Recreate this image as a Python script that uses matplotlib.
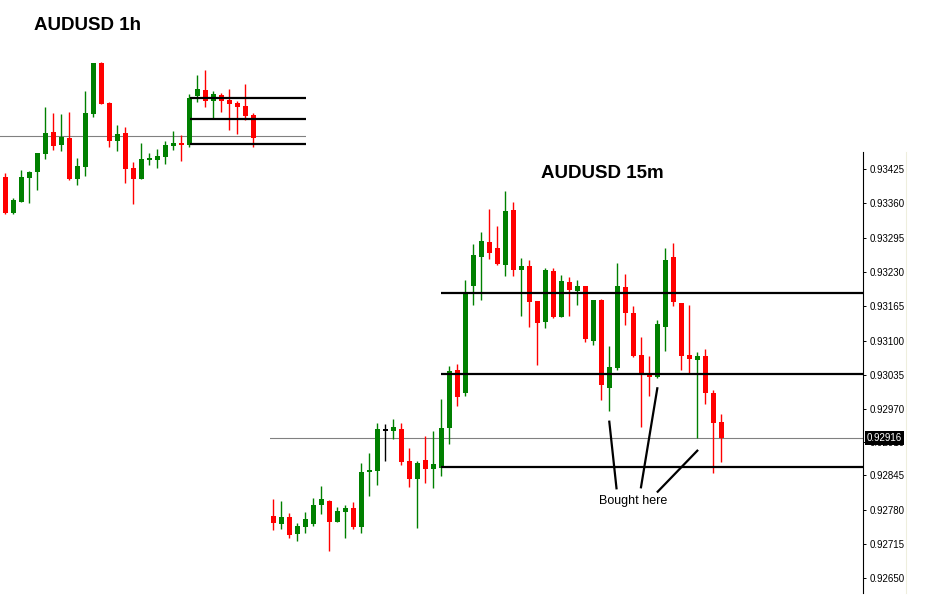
import matplotlib
matplotlib.use("Agg")
import matplotlib.pyplot as plt
from matplotlib.lines import Line2D
from matplotlib import transforms

plt.rcParams['font.family'] = ['Liberation Sans', 'DejaVu Sans']

W, H = 931, 616

# ---------------- data ----------------
# AUDUSD 1h candles
h1_open = [0.92623, 0.92366, 0.92444, 0.92616, 0.92659, 0.92787, 0.92945, 0.92852,
           0.92902, 0.92609, 0.92695, 0.93073, 0.93438, 0.93152, 0.92880, 0.92938,
           0.92687, 0.92609, 0.92745, 0.92745, 0.92766, 0.92845, 0.92866, 0.92852,
           0.93202, 0.93245, 0.93166, 0.93209, 0.93174, 0.93152, 0.93131, 0.93066]
h1_high = [0.92652, 0.92473, 0.92673, 0.92666, 0.92795, 0.93124, 0.93081, 0.93073,
           0.93088, 0.92759, 0.93238, 0.93438, 0.93445, 0.93159, 0.92995, 0.92981,
           0.92730, 0.92866, 0.92795, 0.92823, 0.92880, 0.92952, 0.92923, 0.93216,
           0.93352, 0.93388, 0.93238, 0.93224, 0.93252, 0.93166, 0.93288, 0.93081]
h1_low = [0.92358, 0.92358, 0.92444, 0.92437, 0.92530, 0.92752, 0.92816, 0.92809,
          0.92605, 0.92566, 0.92630, 0.93052, 0.93143, 0.92838, 0.92809, 0.92580,
          0.92430, 0.92607, 0.92709, 0.92687, 0.92716, 0.92816, 0.92737, 0.92838,
          0.93159, 0.93124, 0.93045, 0.93088, 0.92959, 0.92930, 0.93031, 0.92838]
h1_close = [0.92366, 0.92459, 0.92623, 0.92659, 0.92795, 0.92938, 0.92845, 0.92909,
            0.92609, 0.92702, 0.93081, 0.93438, 0.93147, 0.92880, 0.92930, 0.92680,
            0.92609, 0.92752, 0.92759, 0.92773, 0.92852, 0.92866, 0.92852, 0.93188,
            0.93252, 0.93166, 0.93216, 0.93166, 0.93145, 0.93124, 0.93059, 0.92902]

# AUDUSD 15m candles
m15_open = [0.92768, 0.92753, 0.92766, 0.92734, 0.92748, 0.92753, 0.92788, 0.92796,
            0.92757, 0.92776, 0.92783, 0.92748, 0.92851, 0.92853, 0.92931, 0.92929,
            0.92933, 0.92872, 0.92838, 0.92874, 0.92857, 0.92859, 0.92935, 0.93044,
            0.93001, 0.93203, 0.93258, 0.93287, 0.93275, 0.93243, 0.93347, 0.93234,
            0.93241, 0.93175, 0.93135, 0.93232, 0.93145, 0.93211, 0.93194, 0.93203,
            0.93099, 0.93177, 0.93010, 0.93048, 0.93202, 0.93152, 0.93073, 0.93037,
            0.93031, 0.93126, 0.93258, 0.93171, 0.93073, 0.93063, 0.93071, 0.93001,
            0.92946]
m15_high = [0.92800, 0.92796, 0.92774, 0.92755, 0.92776, 0.92802, 0.92825, 0.92798,
            0.92785, 0.92789, 0.92795, 0.92868, 0.92887, 0.92944, 0.92942, 0.92952,
            0.92944, 0.92897, 0.92872, 0.92920, 0.92929, 0.92990, 0.93052, 0.93056,
            0.93215, 0.93283, 0.93306, 0.93349, 0.93317, 0.93383, 0.93362, 0.93256,
            0.93253, 0.93175, 0.93238, 0.93238, 0.93224, 0.93220, 0.93215, 0.93203,
            0.93177, 0.93179, 0.93090, 0.93247, 0.93226, 0.93166, 0.93107, 0.93071,
            0.93139, 0.93275, 0.93285, 0.93171, 0.93168, 0.93078, 0.93084, 0.93007,
            0.92961]
m15_low = [0.92742, 0.92744, 0.92727, 0.92721, 0.92736, 0.92750, 0.92772, 0.92702,
           0.92756, 0.92727, 0.92744, 0.92736, 0.92806, 0.92827, 0.92872, 0.92914,
           0.92865, 0.92823, 0.92746, 0.92831, 0.92821, 0.92844, 0.92905, 0.92977,
           0.92996, 0.93168, 0.93177, 0.93255, 0.93243, 0.93222, 0.93222, 0.93147,
           0.93126, 0.93054, 0.93124, 0.93143, 0.93145, 0.93147, 0.93168, 0.93097,
           0.93092, 0.92988, 0.92967, 0.93044, 0.93130, 0.93069, 0.92937, 0.92995,
           0.93029, 0.93080, 0.93166, 0.93044, 0.93037, 0.92916, 0.92980, 0.92849,
           0.92870]
m15_close = [0.92755, 0.92766, 0.92733, 0.92749, 0.92762, 0.92789, 0.92800, 0.92757,
             0.92777, 0.92783, 0.92748, 0.92851, 0.92855, 0.92933, 0.92931, 0.92937,
             0.92870, 0.92838, 0.92868, 0.92857, 0.92866, 0.92935, 0.93043, 0.92994,
             0.93190, 0.93262, 0.93289, 0.93266, 0.93245, 0.93345, 0.93234, 0.93241,
             0.93173, 0.93133, 0.93234, 0.93145, 0.93213, 0.93196, 0.93203, 0.93103,
             0.93177, 0.93016, 0.93050, 0.93203, 0.93152, 0.93071, 0.93035, 0.93031,
             0.93132, 0.93253, 0.93173, 0.93071, 0.93065, 0.93071, 0.93001, 0.92944,
             0.92916]

levels = [0.93190, 0.93037, 0.92861]
last_price = 0.92916

m15_ticks = [0.93425, 0.93360, 0.93295, 0.93230, 0.93165, 0.93100, 0.93035,
             0.92970, 0.929075, 0.92845, 0.92780, 0.92715, 0.92650]
m15_tick_labels = ["0.93425", "0.93360", "0.93295", "0.93230", "0.93165", "0.93100",
                   "0.93035", "0.92970", "0.92910", "0.92845", "0.92780", "0.92715",
                   "0.92650"]

# "Bought here" pointer lines: (candle index, price) pairs
bought_lines = [
    [(42.0, 0.929466), (42.9, 0.928205)],
    [(48.0, 0.930098), (45.96, 0.928224)],
    [(48.05, 0.928141), (53.0, 0.928917)],
]

GREEN = '#008000'
RED = '#ff0000'


def px_rect(x0, y0, x1, y1):
    return [x0 / W, 1 - y1 / H, (x1 - x0) / W, (y1 - y0) / H]


def draw_candles(ax, o, h, l, c, width, minh):
    for i, (oo, hh, ll, cc) in enumerate(zip(o, h, l, c)):
        if cc > oo:
            col = GREEN
        elif cc < oo:
            col = RED
        else:
            col = 'black'
        ax.vlines(i, ll, hh, color=col, lw=1.0, zorder=2)
        bottom = min(oo, cc)
        height = abs(cc - oo)
        if height < minh:
            bottom = (oo + cc) / 2 - minh / 2
            height = minh
        ax.bar(i, height, width, bottom=bottom, color=col, linewidth=0, zorder=3)


fig = plt.figure(figsize=(W / 100, H / 100), dpi=100)
fig.patch.set_facecolor('white')

# ---------------- 15m chart ----------------
k15 = 0.00065 / 34.333  # price per pixel
ax = fig.add_axes(px_rect(270, 152, 863, 593))
ax.set_xlim(-0.41, 73.71)
ax.set_ylim(0.93425 - (593 - 169) * k15, 0.93425 + (169 - 152) * k15)
draw_candles(ax, m15_open, m15_high, m15_low, m15_close, 0.625, 1.5 * k15)
ax.axhline(last_price, color='#808080', lw=0.8, zorder=1)
ax.hlines(levels, 20.95, 73.71, color='black', lw=1.6, zorder=4)
for seg in bought_lines:
    (x0, y0), (x1, y1) = seg
    ax.plot([x0, x1], [y0, y1], color='black', lw=1.6, zorder=5, clip_on=False)

for s in ['left', 'top', 'bottom']:
    ax.spines[s].set_visible(False)
ax.spines['right'].set_linewidth(0.8)
ax.set_xticks([])
ax.yaxis.tick_right()
ax.set_yticks(m15_ticks)
ax.set_yticklabels(m15_tick_labels)
ax.tick_params(axis='y', direction='out', length=2.5, width=0.7, pad=2.5,
               labelsize=7, colors='black')

tr = transforms.blended_transform_factory(ax.transAxes, ax.transData)
ax.text(1.0065, last_price, "0.92916", transform=tr, ha='left', va='center',
        fontsize=7, color='white', zorder=10,
        bbox=dict(boxstyle='square,pad=0.22', fc='black', ec='none'))

fig.add_artist(Line2D([906 / W, 906 / W], [1 - 152 / H, 1 - 593 / H],
                      color='#eeeedd', lw=0.8))

# ---------------- 1h chart ----------------
k1 = 7.15e-5
ax1 = fig.add_axes(px_rect(0, 55, 306, 220))
ax1.set_xlim(-0.6625, 37.59)
ax1.set_ylim(0.93190 - (220 - 97.7) * k1, 0.93190 + (97.7 - 55) * k1)
draw_candles(ax1, h1_open, h1_high, h1_low, h1_close, 0.625, 1.5 * k1)
ax1.axhline(last_price, color='#808080', lw=0.8, zorder=1)
ax1.hlines(levels, 23.1, 37.59, color='black', lw=1.6, zorder=4)
ax1.axis('off')

# ---------------- texts ----------------
fig.text(88 / W, 1 - 26 / H, "AUDUSD 1h", ha='center', va='center',
         fontsize=13.5, fontweight='bold')
fig.text(602 / W, 1 - 173 / H, "AUDUSD 15m", ha='center', va='center',
         fontsize=13.5, fontweight='bold')
fig.text(633 / W, 1 - 501 / H, "Bought here", ha='center', va='center',
         fontsize=9)

fig.savefig("out.png", dpi=100, facecolor='white')
